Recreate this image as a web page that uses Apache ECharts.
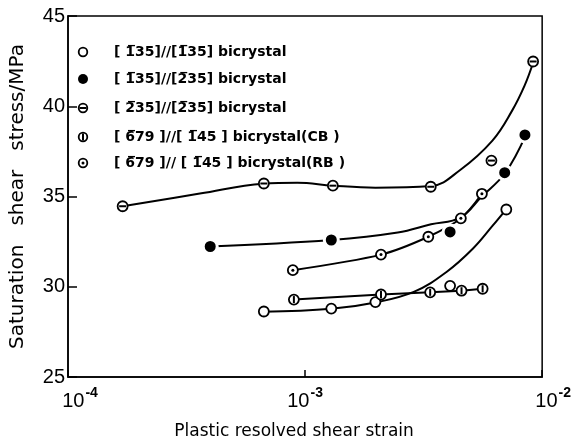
<!DOCTYPE html>
<html>
<head>
<meta charset="utf-8">
<script src="https://cdn.jsdelivr.net/npm/echarts@6/dist/echarts.min.js"></script>
<style>html,body{margin:0;padding:0;background:#fff}#c{width:574px;height:445px}</style>
</head>
<body>
<div id="c"></div>
<script>
// ---- data ----
const legendNames = [
  '[ 1\u030535]//[1\u030535] bicrystal',
  '[ 1\u030535]//[2\u030535] bicrystal',
  '[ 2\u030535]//[2\u030535] bicrystal',
  '[ 6\u030579 ]//[ 1\u030545 ] bicrystal(CB )',
  '[ 6\u030579 ]// [ 1\u030545 ] bicrystal(RB )'
];
const yTicks = [25, 30, 35, 40, 45];
const xRange = [1e-4, 1e-2];

// open circles
const s1Pts = [[6.70e-4,28.63],[1.29e-3,28.79],[1.98e-3,29.15],[4.09e-3,30.05],[7.06e-3,34.28]];
const s1Curve = [[6.65e-4,28.61],[1.29e-3,28.78],[1.98e-3,29.13],[2.89e-3,29.73],[3.95e-3,30.82],[5.11e-3,32.12],[6.17e-3,33.37],[7.05e-3,34.29]];
// filled circles
const s2Pts = [[3.98e-4,32.23],[1.29e-3,32.59],[4.09e-3,33.04],[6.95e-3,36.32],[8.46e-3,38.41]];
const s2Curve = [[3.95e-4,32.23],[1.29e-3,32.59],[2.46e-3,33.0],[3.40e-3,33.46],[4.51e-3,33.83],[5.56e-3,35.0],[6.98e-3,36.30],[8.51e-3,38.37]];
// circle with horizontal bar
const s3Pts = [[1.70e-4,34.46],[6.70e-4,35.72],[1.31e-3,35.60],[3.39e-3,35.54],[6.11e-3,36.99],[9.16e-3,42.48]];
const s3Curve = [[1.70e-4,34.46],[3.60e-4,35.16],[6.65e-4,35.71],[9.27e-4,35.76],[1.31e-3,35.60],[1.98e-3,35.49],[3.40e-3,35.58],[4.51e-3,36.47],[6.17e-3,38.10],[7.45e-3,39.73],[8.43e-3,41.14],[9.18e-3,42.45]];
// circle with vertical bar (CB)
const s4Pts = [[8.97e-4,29.29],[2.09e-3,29.57],[3.37e-3,29.69],[4.57e-3,29.78],[5.61e-3,29.89]];
// circle with dot (RB)
const s5Pts = [[8.88e-4,30.92],[2.09e-3,31.78],[3.31e-3,32.77],[4.54e-3,33.79],[5.57e-3,35.15]];

// ---- chart ----
const K = '#000';
function curve(data, smooth) {
  return {type:'line', data, smooth: smooth, symbol:'none', z:2,
    lineStyle:{color:K, width:2}, silent:true};
}
function ring(data) {
  return {type:'scatter', data, symbol:'circle', symbolSize:10, z:5,
    itemStyle:{color:'#fff', borderColor:K, borderWidth:1.8, opacity:1}};
}
function inner(data, symbol, size) {
  return {type:'scatter', data, symbol, symbolSize:size, z:6,
    itemStyle:{color:K, opacity:1}};
}

const series = [
  curve(s1Curve, 0.4),
  curve(s2Curve, 0.4),
  curve(s3Curve, 0.4),
  curve(s4Pts, false),
  curve(s5Pts, 0.3),
  ring(s1Pts),
  {type:'scatter', data:s2Pts, symbol:'circle', symbolSize:14, z:5,
    itemStyle:{color:K, borderColor:'#fff', borderWidth:3, opacity:1}},
  ring(s3Pts), inner(s3Pts, 'rect', [7,2]),
  ring(s4Pts), inner(s4Pts, 'rect', [2,7]),
  ring(s5Pts), inner(s5Pts, 'circle', 3)
];

// legend drawn as graphic elements
const legY = [52, 79, 108, 137, 163];
const legX = 83, legTextX = 114;
const graphic = [];
legendNames.forEach((name, i) => {
  const y = legY[i];
  const filled = i === 1;
  graphic.push({type:'circle', shape:{cx:legX, cy:y, r:filled?5:4.3},
    style:{fill: filled?K:'#fff', stroke:K, lineWidth: filled?0:1.8}});
  if (i === 2) graphic.push({type:'rect', shape:{x:legX-3.5, y:y-1, width:7, height:2}, style:{fill:K}});
  if (i === 3) graphic.push({type:'rect', shape:{x:legX-1, y:y-3.5, width:2, height:7}, style:{fill:K}});
  if (i === 4) graphic.push({type:'circle', shape:{cx:legX, cy:y, r:1.5}, style:{fill:K}});
  graphic.push({type:'text', x:legTextX, y:y, style:{text:name, fill:K,
    font:'bold 14px "DejaVu Sans"', textVerticalAlign:'middle', textAlign:'left'}});
});

const chart = echarts.init(document.getElementById('c'), null, {renderer:'canvas'});
chart.setOption({
  backgroundColor:'#fff',
  animation:false,
  grid:{left:65, right:23, top:16, bottom:61, show:true, borderColor:K, borderWidth:1.5, backgroundColor:'transparent'},
  xAxis:{type:'log', logBase:10, min:xRange[0], max:xRange[1],
    axisLine:{show:true, lineStyle:{color:K, width:1.5}},
    axisTick:{show:true, inside:true, length:7, lineStyle:{color:K, width:1.5}},
    minorTick:{show:false}, splitLine:{show:false},
    axisLabel:{show:true, showMinLabel:true, showMaxLabel:true, margin:6, color:K,
      formatter: function(v){
        const e = Math.round(Math.log10(v));
        const key = e === -4 ? 'b0' : (e === -2 ? 'b2' : 'b');
        return '{' + key + '|10}{s|' + e + '}';
      },
      rich:{
        b:{fontSize:20, fontFamily:'Liberation Sans', color:K, padding:[8,0,0,0]},
        b0:{fontSize:20, fontFamily:'Liberation Sans', color:K, padding:[8,0,0,24]},
        b2:{fontSize:20, fontFamily:'Liberation Sans', color:K, padding:[8,0,0,22]},
        s:{fontSize:14, fontFamily:'Liberation Sans', fontWeight:'bold', color:K, padding:[0,0,8,1]}
      }},
    name:'Plastic resolved shear strain', nameLocation:'middle', nameGap:46,
    nameTextStyle:{fontSize:17, fontFamily:'DejaVu Sans', color:K, padding:[0,22,0,0]}
  },
  yAxis:{type:'value', min:yTicks[0], max:yTicks[yTicks.length-1], interval:5,
    axisLine:{show:true, lineStyle:{color:K, width:1.5}},
    axisTick:{show:true, inside:true, length:9, lineStyle:{color:K, width:1.5}},
    splitLine:{show:false},
    axisLabel:{fontSize:20, fontFamily:'Liberation Sans', color:K, margin:3},
    name:'Saturation   shear   stress/MPa', nameLocation:'middle', nameGap:40, nameRotate:90,
    nameTextStyle:{fontSize:20, fontFamily:'DejaVu Sans', color:K}
  },
  graphic,
  series
});
</script>
</body>
</html>
